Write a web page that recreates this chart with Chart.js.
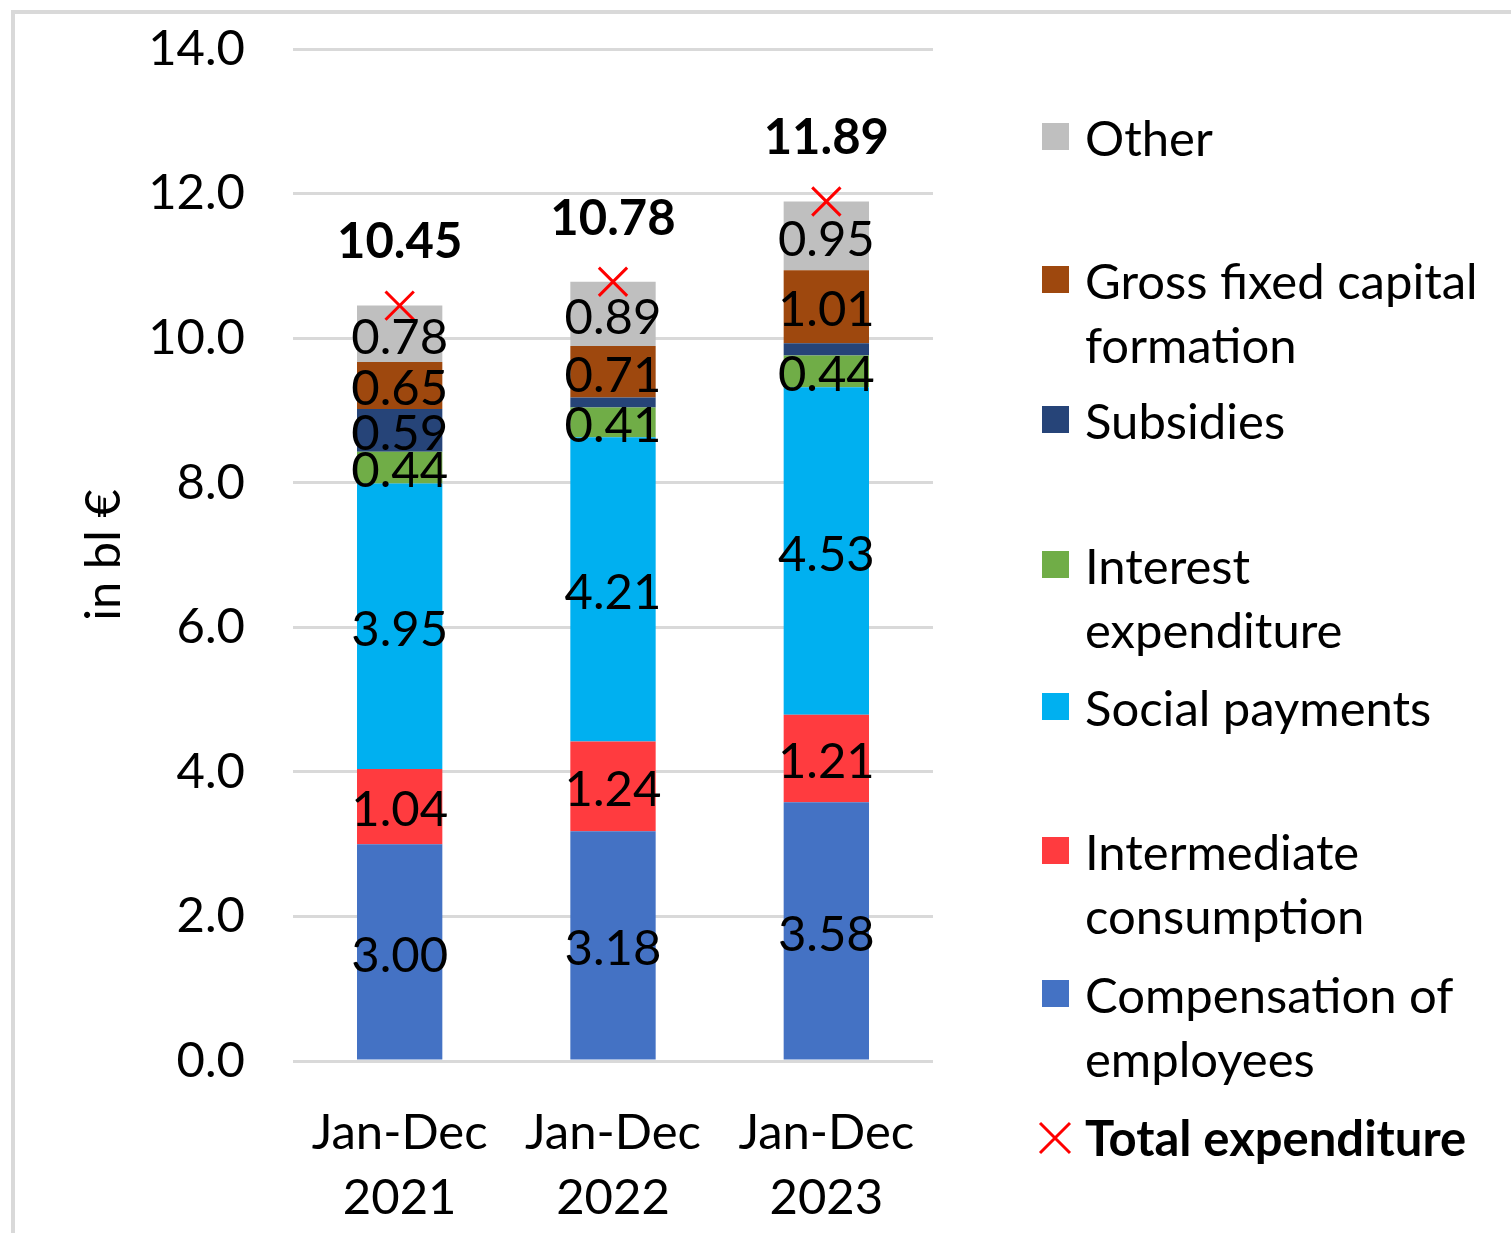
<!DOCTYPE html>
<html>
<head>
<meta charset="utf-8">
<script src="https://cdn.jsdelivr.net/npm/chart.js@4.4.1/dist/chart.umd.min.js"></script>
<style>
  body { margin: 0; background: #fff; font-family: Lato, sans-serif; }
  #wrap { position: relative; width: 1511px; height: 1233px; }
  #frame { position: absolute; left: 11px; top: 10px; right: 0; bottom: 0;
           border-left: 4px solid #d9d9d9; border-top: 4px solid #d9d9d9; }
  #chartBox { position: absolute; left: 0; top: 0; width: 1511px; height: 1233px; }
  .lg { position: absolute; left: 1042px; font-size: 49px; line-height: 64px; color: #000; }
  .lg .sw { position: absolute; left: 0; top: 18px; width: 27px; height: 27px; }
  .lg .tx { margin-left: 43px; white-space: nowrap; }
  .lg svg { position: absolute; left: -4px; top: 16px; }
</style>
</head>
<body>
<div id="wrap">
  <div id="frame"></div>
  <div id="chartBox"><canvas id="expChart"></canvas></div>
  <div id="legend"></div>
</div>
<script>
// categories
const periods = [['Jan-Dec', '2021'], ['Jan-Dec', '2022'], ['Jan-Dec', '2023']];

// series values (bl €)
const compensation = [3.00, 3.18, 3.58];
const intermediate = [1.04, 1.24, 1.21];
const socialPayments = [3.95, 4.21, 4.53];
const interest = [0.44, 0.41, 0.44];
const subsidies = [0.59, 0.14, 0.17];
const grossFixedCapital = [0.65, 0.71, 1.01];
const other = [0.78, 0.89, 0.95];
const totalExpenditure = [10.45, 10.78, 11.89];

// y ticks
const yTicks = [0, 2, 4, 6, 8, 10, 12, 14];

const FONT = 'Lato';
const SIZE = 49;

const barSeries = [
  { label: 'Compensation of employees', data: compensation, color: '#4472c4' },
  { label: 'Intermediate consumption', data: intermediate, color: '#ff3b3f' },
  { label: 'Social payments', data: socialPayments, color: '#00b0f0' },
  { label: 'Interest expenditure', data: interest, color: '#70ad47' },
  { label: 'Subsidies', data: subsidies, color: '#264478' },
  { label: 'Gross fixed capital formation', data: grossFixedCapital, color: '#9e480e' },
  { label: 'Other', data: other, color: '#bfbfbf' }
];

/**
 * Draws the value labels inside the segments and the bold totals
 */
const valueLabels = {
  id: 'valueLabels',
  afterDatasetsDraw(chart) {
    const ctx = chart.ctx;
    ctx.save();
    ctx.textAlign = 'center';
    ctx.textBaseline = 'middle';
    ctx.fillStyle = '#000';
    chart.data.datasets.forEach((ds, i) => {
      const meta = chart.getDatasetMeta(i);
      if (ds.type === 'line') {
        ctx.font = `bold ${SIZE}px ${FONT}`;
        meta.data.forEach((pt, j) => {
          ctx.fillText(ds.data[j].toFixed(2), pt.x, pt.y - 63);
        });
        return;
      }
      ctx.font = `${SIZE}px ${FONT}`;
      meta.data.forEach((bar, j) => {
        const v = ds.data[j];
        if (v < 0.2) return;
        ctx.fillText(v.toFixed(2), bar.x, (bar.y + bar.base) / 2 + 4);
      });
    });
    ctx.restore();
  }
};

const datasets = barSeries.map(s => ({
  type: 'bar',
  label: s.label,
  data: s.data,
  backgroundColor: s.color,
  borderWidth: 0,
  barPercentage: 0.4,
  categoryPercentage: 1,
  order: 1
}));

datasets.push({
  type: 'line',
  label: 'Total expenditure',
  data: totalExpenditure,
  showLine: false,
  pointStyle: 'crossRot',
  pointRadius: 20,
  pointBorderWidth: 3,
  borderColor: '#ff0000',
  backgroundColor: '#ff0000',
  stack: 'total',
  order: 0
});

new Chart(document.getElementById('expChart'), {
  data: { labels: periods, datasets: datasets },
  plugins: [valueLabels],
  options: {
    responsive: true,
    maintainAspectRatio: false,
    animation: false,
    layout: { padding: { left: 0, top: 49, right: 578, bottom: 0 } },
    plugins: {
      legend: { display: false },
      tooltip: { enabled: false }
    },
    scales: {
      x: {
        stacked: true,
        grid: { display: false },
        border: { display: false },
        ticks: {
          color: '#000',
          padding: 32,
          font: { family: FONT, size: SIZE, lineHeight: 1.327 }
        },
        afterFit(scale) { scale.height = 172; }
      },
      y: {
        stacked: true,
        min: yTicks[0],
        max: yTicks[yTicks.length - 1],
        afterBuildTicks(scale) { scale.ticks = yTicks.map(v => ({ value: v })); },
        grid: { color: '#d9d9d9', lineWidth: 3, drawTicks: false },
        border: { display: false },
        ticks: {
          color: '#000',
          padding: 48,
          font: { family: FONT, size: SIZE },
          callback: v => v.toFixed(1)
        },
        title: {
          display: true,
          text: 'in bl €',
          color: '#000',
          padding: { top: 75, bottom: 0 },
          font: { family: FONT, size: SIZE }
        },
        afterFit(scale) {
          // fixed axis box so the plot area lines up with the reference
          scale.width = 293;
          scale.paddingTop = 0;
          scale.paddingBottom = 0;
        }
      }
    }
  }
});

// legend, laid out like the spreadsheet one
const legendItems = [
  { text: ['Other'], color: '#bfbfbf', top: 105 },
  { text: ['Gross fixed capital', 'formation'], color: '#9e480e', top: 248 },
  { text: ['Subsidies'], color: '#264478', top: 388 },
  { text: ['Interest', 'expenditure'], color: '#70ad47', top: 533 },
  { text: ['Social payments'], color: '#00b0f0', top: 675 },
  { text: ['Intermediate', 'consumption'], color: '#ff3b3f', top: 819 },
  { text: ['Compensation of', 'employees'], color: '#4472c4', top: 962 }
];

const legendEl = document.getElementById('legend');
legendEl.innerHTML = legendItems.map(item => `
  <div class="lg" style="top:${item.top}px">
    <div class="sw" style="background:${item.color}"></div>
    <div class="tx">${item.text.join('<br>')}</div>
  </div>
`).join('') + `
  <div class="lg" style="top:1105px">
    <svg width="34" height="34" viewBox="0 0 34 34">
      <path d="M2 2 L32 32 M32 2 L2 32" stroke="#ff0000" stroke-width="3"/>
    </svg>
    <div class="tx" style="font-weight:bold">Total expenditure</div>
  </div>`;
</script>
</body>
</html>
